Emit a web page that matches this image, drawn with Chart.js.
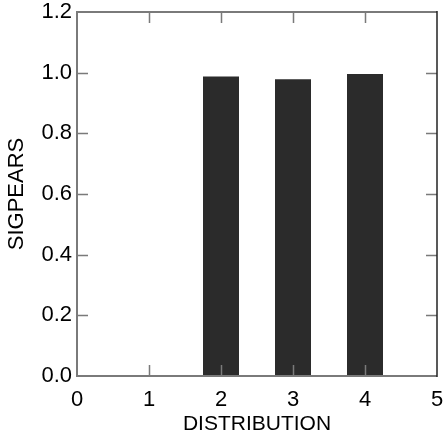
<!DOCTYPE html>
<html>
<head>
<meta charset="utf-8">
<script src="https://cdn.jsdelivr.net/npm/chart.js"></script>
<style>
  html, body { margin: 0; padding: 0; background: #fff; }
  #wrap { width: 443px; height: 441px; }
</style>
</head>
<body>
<div id="wrap"><canvas id="chart"></canvas></div>
<script>
// Data
const distributions = [1, 2, 3, 4];
const sigpears = [0, 0.987, 0.978, 0.996];
const xTicks = [0, 1, 2, 3, 4, 5];
const yTicks = [0, 0.2, 0.4, 0.6, 0.8, 1.0, 1.2];

const FONT = "'Liberation Sans', Arial, sans-serif";

// Frame with inward ticks on all four sides
const framePlugin = {
  id: 'frame',
  afterDraw(chart) {
    const { ctx, chartArea: a, scales } = chart;
    const len = 11;
    ctx.save();
    ctx.lineWidth = 1.5;
    ctx.strokeStyle = '#7a7a7a';
    // ticks
    ctx.beginPath();
    xTicks.slice(1, -1).forEach(v => {
      const px = Math.round(scales.x.getPixelForValue(v)) + 0.5;
      ctx.moveTo(px, a.top); ctx.lineTo(px, a.top + len);
      ctx.moveTo(px, a.bottom); ctx.lineTo(px, a.bottom - len);
    });
    yTicks.slice(1, -1).forEach(v => {
      const py = Math.round(scales.y.getPixelForValue(v)) + 0.5;
      ctx.moveTo(a.left, py); ctx.lineTo(a.left + len, py);
      ctx.moveTo(a.right, py); ctx.lineTo(a.right - len, py);
    });
    ctx.stroke();
    // left, top, bottom border
    ctx.lineWidth = 2;
    ctx.beginPath();
    ctx.moveTo(a.right, a.top); ctx.lineTo(a.left, a.top);
    ctx.lineTo(a.left, a.bottom); ctx.lineTo(a.right, a.bottom);
    ctx.stroke();
    // right border darker
    ctx.strokeStyle = '#222';
    ctx.lineWidth = 1.5;
    ctx.beginPath();
    ctx.moveTo(a.right, a.top - 1); ctx.lineTo(a.right, a.bottom + 1);
    ctx.stroke();
    ctx.restore();
  }
};

new Chart(document.getElementById('chart'), {
  type: 'bar',
  data: {
    datasets: [{
      label: 'SIGPEARS',
      data: distributions.map((d, i) => ({ x: d, y: sigpears[i] })),
      backgroundColor: '#2b2b2b',
      borderWidth: 0,
      barPercentage: 0.5,
      categoryPercentage: 1.0
    }]
  },
  options: {
    responsive: true,
    maintainAspectRatio: false,
    animation: false,
    layout: { padding: { top: 12, right: 6, left: 0, bottom: 0 } },
    plugins: {
      legend: { display: false },
      tooltip: { enabled: false }
    },
    scales: {
      x: {
        type: 'linear',
        min: 0,
        max: 5,
        offset: false,
        afterBuildTicks: (scale) => { scale.ticks = xTicks.map(v => ({ value: v })); },
        afterFit: (scale) => {
          scale.height = 65;
          scale.paddingLeft = 0; scale.paddingRight = 0;
        },
        grid: { display: false, drawTicks: false },
        border: { display: false },
        ticks: {
          padding: 11,
          color: '#000',
          font: { family: FONT, size: 22 },
          maxRotation: 0
        },
        title: {
          display: true,
          text: 'DISTRIBUTION',
          color: '#000',
          font: { family: FONT, size: 21 },
          padding: { top: 0, bottom: 4 }
        }
      },
      y: {
        min: 0,
        max: 1.2,
        afterBuildTicks: (scale) => { scale.ticks = yTicks.map(v => ({ value: v })); },
        afterFit: (scale) => {
          scale.width = 77;
          scale.paddingTop = 0; scale.paddingBottom = 0;
        },
        grid: { display: false, drawTicks: false },
        border: { display: false },
        ticks: {
          padding: 5,
          color: '#000',
          font: { family: FONT, size: 22 },
          callback: (v) => Number(v).toFixed(1)
        },
        title: {
          display: true,
          text: 'SIGPEARS',
          color: '#000',
          font: { family: FONT, size: 22 },
          padding: { top: 4, bottom: 0 }
        }
      }
    }
  },
  plugins: [framePlugin]
});
</script>
</body>
</html>
